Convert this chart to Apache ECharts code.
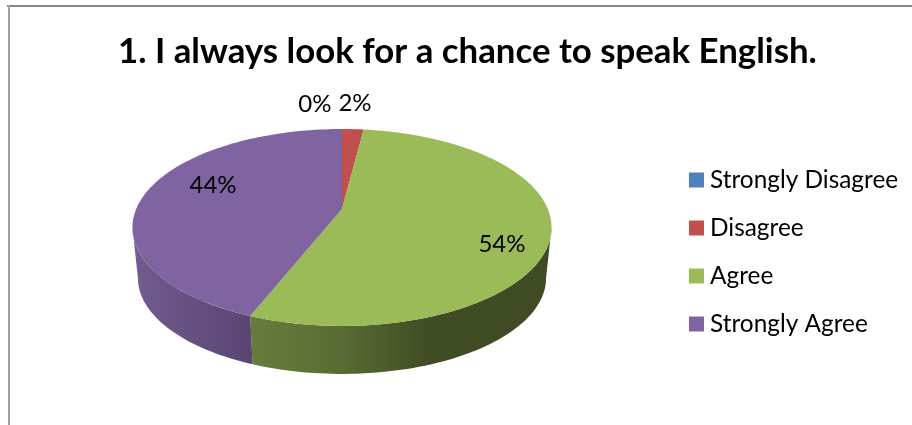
<!DOCTYPE html>
<html><head><meta charset="utf-8">
<style>html,body{margin:0;padding:0;background:#fff}#c{width:912px;height:425px}</style>
<script src="https://cdn.jsdelivr.net/npm/echarts@6/dist/echarts.min.js"></script>
</head><body><div id="c"></div>
<script>
const titleText = "1. I always look for a chance to speak English.";
const categories = ["Strongly Disagree", "Disagree", "Agree", "Strongly Agree"];
const values = [0, 2, 54, 44];
const colors = ["#4f81bd", "#c0504d", "#9bbb59", "#8064a2"];
const wallStops = [
  null, null,
  [[0, "#667d3a"], [0.3, "#586c33"], [0.6, "#404c23"], [1, "#3f4b22"]],
  [[0, "#725c90"], [1, "#5a4470"]]
];
// label anchors expressed in disc units (u: right, v: back)
const labelDisc = [[-0.166, 1.395], [0.08, 1.412], [0.727, -0.344], [-0.658, 0.265]];

const cx = 342, topY = 209, a = 205.8, b = 95, p = 0.1878, depthY = 51, depthScale = 0.974;
const total = values.reduce((s, v) => s + v, 0);
const rad = d => d * Math.PI / 180;
function proj(u, v, wall) {
  const w = 1 + p * v, s = wall ? depthScale : 1, y0 = topY + (wall ? depthY : 0);
  return [cx + s * a * u / w, y0 - s * b * v / w];
}
const rim = (deg, wall) => proj(Math.sin(rad(deg)), Math.cos(rad(deg)), wall);
function arc(from, to, wall) {
  const pts = [], n = Math.max(2, Math.ceil(Math.abs(to - from) / 1.5));
  for (let i = 0; i <= n; i++) pts.push(rim(from + (to - from) * i / n, wall));
  return pts;
}
const visFrom = 100.8, visTo = 259.2;

function makeRender(idx) {
  const start = values.slice(0, idx).reduce((s, v) => s + v, 0) / total * 360;
  const end = start + values[idx] / total * 360;
  return function (params, api) {
    const color = api.visual("color"), children = [];
    const f = Math.max(start, visFrom), t = Math.min(end, visTo);
    if (t > f && wallStops[idx]) {
      children.push({
        type: "polygon", z2: 1,
        shape: { points: arc(f, t, false).concat(arc(t, f, true)) },
        style: { fill: new echarts.graphic.LinearGradient(0, 0, 1, 0, wallStops[idx].map(s => ({ offset: s[0], color: s[1] }))) }
      });
    }
    if (end > start) {
      children.push({
        type: "polygon", z2: 2,
        shape: { points: [proj(0, 0, false)].concat(arc(start, end, false)) },
        style: { fill: color }
      });
    }
    const lp = proj(labelDisc[idx][0], labelDisc[idx][1], false);
    children.push({
      type: "text", z2: 5, x: lp[0], y: lp[1],
      style: { text: api.value(0) + "%", fill: "#000", font: "24px Lato", align: "center", verticalAlign: "middle" }
    });
    return { type: "group", children };
  };
}

const chart = echarts.init(document.getElementById("c"), null, { renderer: "canvas" });
chart.setOption({
  animation: false,
  backgroundColor: "#fff",
  title: { text: titleText, left: 118, top: 34, padding: 0,
    textStyle: { fontFamily: "Lato", fontWeight: "bold", fontSize: 34.8, color: "#000" } },
  legend: {
    data: categories, left: 689, top: 168, orient: "vertical", icon: "rect",
    itemWidth: 15, itemHeight: 15, itemGap: 24, selectedMode: false, padding: 0,
    textStyle: { fontFamily: "Lato", fontSize: 24.4, color: "#000", padding: [0, 0, 0, 1], lineHeight: 15 }
  },
  graphic: [
    { type: "rect", silent: true, shape: { x: 7, y: 5, width: 905, height: 2 }, style: { fill: "#868686" } },
    { type: "rect", silent: true, shape: { x: 8, y: 5, width: 2, height: 420 }, style: { fill: "#a0a0a0" } }
  ],
  series: categories.map((name, i) => ({
    type: "custom", name, coordinateSystem: "none", silent: true,
    itemStyle: { color: colors[i] },
    data: [[values[i]]],
    renderItem: makeRender(i)
  }))
});
</script></body></html>
